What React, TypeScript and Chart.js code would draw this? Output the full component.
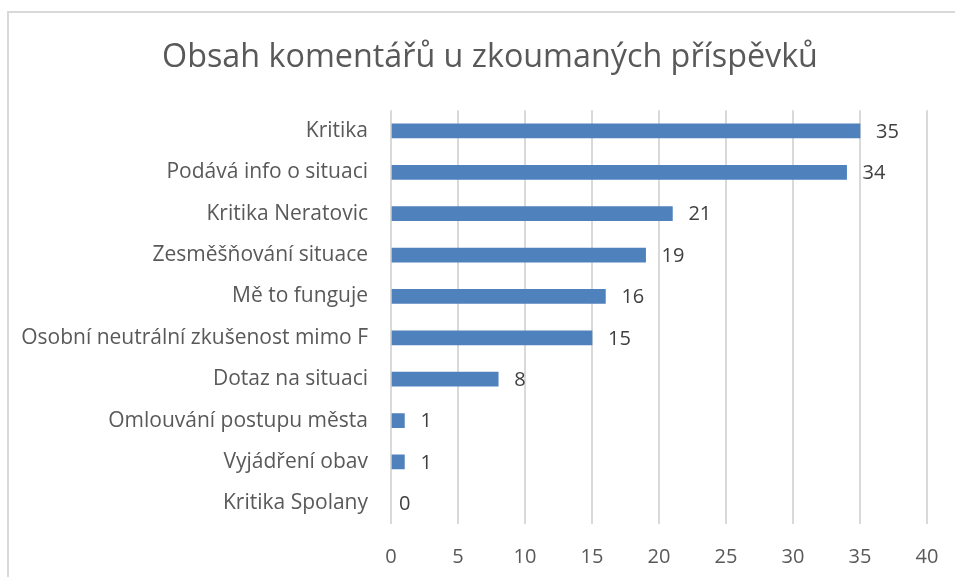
import React, { useEffect, useRef } from "react";
import { Chart, registerables } from "chart.js";

Chart.register(...registerables);

const TITLE = "Obsah komentářů u zkoumaných příspěvků";
const categories = [
  "Kritika",
  "Podává info o situaci",
  "Kritika Neratovic",
  "Zesměšňování situace",
  "Mě to funguje",
  "Osobní neutrální zkušenost mimo F",
  "Dotaz na situaci",
  "Omlouvání postupu města",
  "Vyjádření obav",
  "Kritika Spolany",
];
const values = [35, 34, 21, 19, 16, 15, 8, 1, 1, 0];
const xTicks = [0, 5, 10, 15, 20, 25, 30, 35, 40];

const FONT = "'Open Sans', 'Noto Sans', sans-serif";
const CANVAS_W = 980;

const valueLabels = {
  id: "valueLabels",
  afterDatasetsDraw(chart: any) {
    const ctx = chart.ctx;
    const meta = chart.getDatasetMeta(0);
    ctx.save();
    ctx.font = `20px ${FONT}`;
    ctx.fillStyle = "#404040";
    ctx.textAlign = "left";
    ctx.textBaseline = "middle";
    meta.data.forEach((bar: any, i: number) => {
      const off = values[i] === 0 ? 8 : 16;
      ctx.fillText(String(values[i]), bar.x + off, bar.y + 1);
    });
    ctx.restore();
  },
};

export default function App() {
  const ref = useRef<HTMLCanvasElement | null>(null);
  useEffect(() => {
    if (!ref.current) return;
    const chart = new Chart(ref.current, {
      type: "bar",
      data: {
        labels: categories,
        datasets: [
          {
            data: values,
            backgroundColor: values.map((v) => (v === 0 ? "rgba(0,0,0,0)" : "#4F81BD")),
            borderWidth: 0,
            barThickness: 14,
          },
        ],
      },
      options: {
        indexAxis: "y",
        animation: false,
        responsive: false,
        maintainAspectRatio: false,
        layout: { padding: { left: 0, right: 0, top: 0, bottom: 0 } },
        plugins: {
          legend: { display: false },
          tooltip: { enabled: false },
          title: {
            display: true,
            text: TITLE,
            color: "#595959",
            font: { family: FONT, size: 32.3, weight: "normal", lineHeight: 1.2 },
            padding: { top: 38.4, bottom: 33.1 },
          },
        },
        scales: {
          x: {
            min: 0,
            max: 40,
            afterBuildTicks(scale: any) {
              scale.ticks = xTicks.map((v) => ({ value: v }));
            },
            afterFit(scale: any) {
              scale.height = 53;
              scale.paddingRight = CANVAS_W - 927;
            },
            grid: { color: "#d9d9d9", lineWidth: 2, drawTicks: false },
            border: { display: false },
            ticks: {
              color: "#595959",
              font: { family: FONT, size: 20 },
              padding: 21,
            },
          },
          y: {
            afterFit(scale: any) {
              scale.width = 391;
            },
            grid: { display: false, drawTicks: false },
            border: { display: false },
            ticks: {
              color: "#595959",
              font: { family: FONT, size: 21 },
              padding: 23,
            },
          },
        },
      },
      plugins: [valueLabels],
    });
    return () => chart.destroy();
  }, []);

  return (
    <div
      style={{
        position: "fixed",
        left: 0,
        top: 0,
        width: 955,
        height: 577,
        overflow: "hidden",
        background: "#fff",
      }}
    >
      <div
        style={{
          position: "absolute",
          left: 7,
          top: 11,
          width: 2000,
          height: 2000,
          borderLeft: "2px solid #d9d9d9",
          borderTop: "2px solid #d9d9d9",
        }}
      />
      <canvas
        ref={ref}
        width={CANVAS_W}
        height={577}
        style={{ position: "absolute", left: 0, top: 0, width: CANVAS_W, height: 577 }}
      />
    </div>
  );
}
